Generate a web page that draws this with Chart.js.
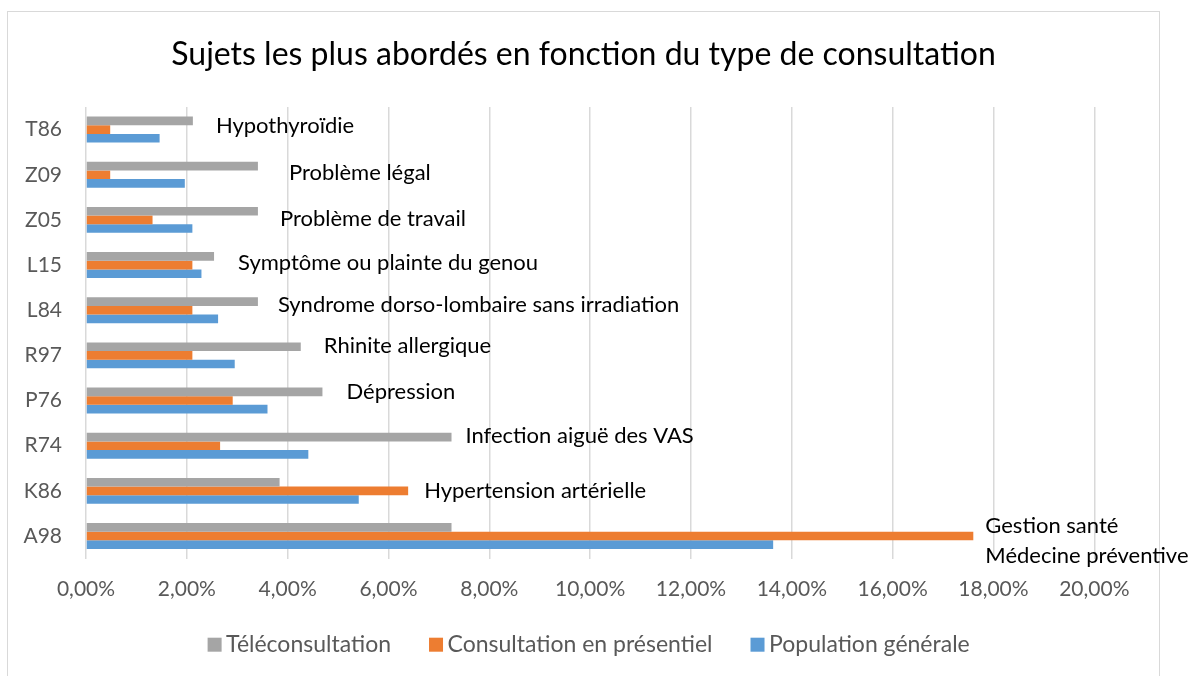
<!DOCTYPE html>
<html lang="fr">
<head>
<meta charset="utf-8">
<title>Sujets les plus abordés</title>
<script src="https://cdn.jsdelivr.net/npm/chart.js@4.4.1/dist/chart.umd.min.js"></script>
<style>
  html, body { margin: 0; padding: 0; background: #fff; }
  #wrap { width: 1195px; height: 676px; position: relative; }
</style>
</head>
<body>
<div id="wrap"><canvas id="myChart" width="1195" height="676"></canvas></div>
<script>
const categories = ["T86", "Z09", "Z05", "L15", "L84", "R97", "P76", "R74", "K86", "A98"];
const topics = [
  "Hypothyroïdie",
  "Problème légal",
  "Problème de travail",
  "Symptôme ou plainte du genou",
  "Syndrome dorso-lombaire sans irradiation",
  "Rhinite allergique",
  "Dépression",
  "Infection aiguë des VAS",
  "Hypertension artérielle",
  "Gestion santé\nMédecine préventive"
];
const seriesNames = ["Téléconsultation", "Consultation en présentiel", "Population générale"];
// values in %
const teleconsultation = [2.12, 3.41, 3.41, 2.54, 3.41, 4.26, 4.69, 7.25, 3.84, 7.25];
const presentiel = [0.48, 0.48, 1.32, 2.11, 2.11, 2.11, 2.91, 2.66, 6.39, 17.60];
const populationGenerale = [1.46, 1.96, 2.11, 2.29, 2.62, 2.95, 3.60, 4.41, 5.41, 13.63];
const xTicks = [0, 2, 4, 6, 8, 10, 12, 14, 16, 18, 20];

const colors = ["#a5a5a5", "#ed7d31", "#5b9bd5"];
const font = "Lato";
const grey = "#595959";

// nudges for the topic labels (they are hand placed text boxes in the original)
const labelDx = [23, 31, 22, 24, 20, 23, 24, 14, 16, 12];
const labelDy = [3, 5, 6, 5, 2, -2, -2, -3, 7, -3];

const topicLabels = {
  id: "topicLabels",
  afterDatasetsDraw(chart) {
    const ctx = chart.ctx;
    const x = chart.scales.x, y = chart.scales.y;
    ctx.save();
    ctx.font = `22px ${font}`;
    ctx.fillStyle = "#000";
    ctx.textAlign = "left";
    ctx.textBaseline = "alphabetic";
    topics.forEach((t, i) => {
      const maxVal = Math.max(...chart.data.datasets.map(d => d.data[i]));
      const px = x.getPixelForValue(maxVal) + labelDx[i];
      const py = y.getPixelForValue(i) + labelDy[i];
      t.split("\n").forEach((line, k) => ctx.fillText(line, px, py + k * 30));
    });
    ctx.restore();
  }
};

// outer frame + legend like the excel one
const frameAndLegend = {
  id: "frameAndLegend",
  beforeDraw(chart) {
    const ctx = chart.ctx;
    ctx.save();
    ctx.strokeStyle = "#d9d9d9";
    ctx.lineWidth = 1;
    ctx.strokeRect(7.5, 11.5, 1152, 700);
    ctx.restore();
  },
  afterDraw(chart) {
    const ctx = chart.ctx;
    const area = chart.chartArea;
    ctx.save();
    ctx.font = `23px ${font}`;
    ctx.textBaseline = "middle";
    const box = 14, gapText = 4.5, gapItem = 38;
    const items = chart.data.datasets.map(d => ({ label: d.label, color: d.backgroundColor, w: ctx.measureText(d.label).width }));
    let total = items.reduce((s, it) => s + box + gapText + it.w, 0) + gapItem * (items.length - 1);
    let cx = (area.left + area.right) / 2 - 1.5 - total / 2;
    const cy = 644.7;
    items.forEach(it => {
      ctx.fillStyle = it.color;
      ctx.fillRect(cx, cy - box / 2, box, box);
      ctx.fillStyle = grey;
      ctx.fillText(it.label, cx + box + gapText, cy);
      cx += box + gapText + it.w + gapItem;
    });
    ctx.restore();
  }
};

const ctx = document.getElementById("myChart").getContext("2d");
const chart = new Chart(ctx, {
  type: "bar",
  data: {
    labels: categories,
    datasets: [
      { label: seriesNames[0], data: teleconsultation, backgroundColor: colors[0] },
      { label: seriesNames[1], data: presentiel, backgroundColor: colors[1] },
      { label: seriesNames[2], data: populationGenerale, backgroundColor: colors[2] }
    ]
  },
  options: {
    indexAxis: "y",
    responsive: false,
    animation: false,
    devicePixelRatio: 1,
    datasets: {
      bar: { categoryPercentage: 0.574, barPercentage: 1 }
    },
    layout: {
      padding: { top: 0, left: 0, right: 28, bottom: 56.2 }
    },
    scales: {
      x: {
        min: 0,
        max: 20,
        afterBuildTicks(scale) {
          scale.ticks = xTicks.map(v => ({ value: v }));
        },
        afterFit(scale) {
          // room on the right so 20% sits where excel put it
          scale.paddingLeft = 0;
          scale.paddingRight = 100.7;
        },
        grid: { color: "#d9d9d9", lineWidth: 1.5, drawTicks: false },
        border: { display: false },
        ticks: {
          padding: 18,
          color: grey,
          font: { family: font, size: 21 },
          callback: v => v.toFixed(2).replace(".", ",") + "%"
        }
      },
      y: {
        afterFit(scale) {
          scale.width = 86;
          scale.paddingTop = 0;
          scale.paddingBottom = 0;
        },
        grid: { display: false, drawTicks: false },
        border: { display: false },
        ticks: {
          padding: 24,
          color: grey,
          font: { family: font, size: 21 }
        }
      }
    },
    plugins: {
      legend: { display: false },
      tooltip: { enabled: false },
      title: {
        display: true,
        text: "Sujets les plus abordés en fonction du type de consultation",
        color: "#000",
        font: { family: font, size: 32, weight: "normal" },
        padding: { top: 35, bottom: 33.6 }
      }
    }
  },
  plugins: [topicLabels, frameAndLegend]
});
</script>
</body>
</html>
